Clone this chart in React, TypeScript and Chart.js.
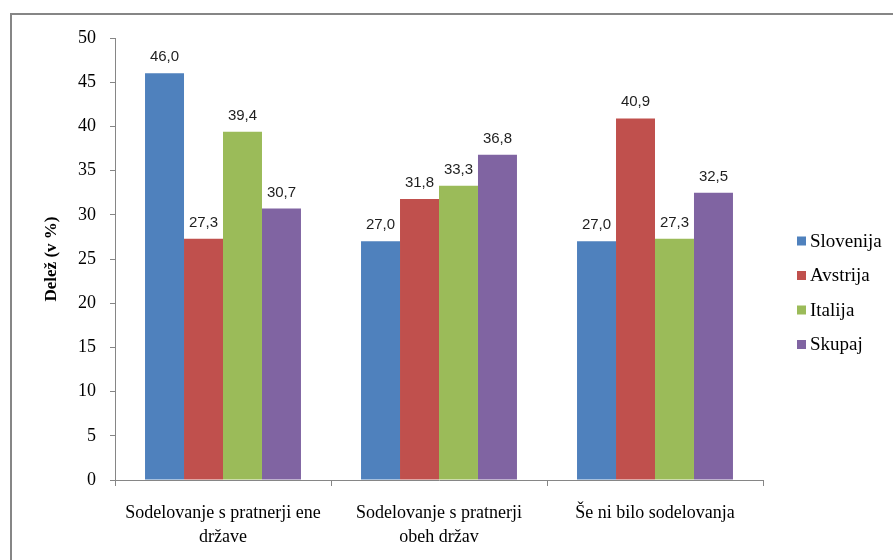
import React, { useEffect, useRef } from "react";
import { Chart, registerables } from "chart.js";

Chart.register(...registerables);

const categories: string[][] = [
  ["Sodelovanje s pratnerji ene", "države"],
  ["Sodelovanje s pratnerji", "obeh držav"],
  ["Še ni bilo sodelovanja"],
];
const seriesNames = ["Slovenija", "Avstrija", "Italija", "Skupaj"];
const slovenija = [46.0, 27.0, 27.0];
const avstrija = [27.3, 31.8, 40.9];
const italija = [39.4, 33.3, 27.3];
const skupaj = [30.7, 36.8, 32.5];
const seriesColors = ["#4F81BD", "#C0504D", "#9BBB59", "#8064A2"];
const yTitle = "Delež (v %)";
const yMin = 0;
const yMax = 50;
const yStep = 5;

const SERIF = "'Liberation Serif', 'Times New Roman', serif";
const SANS = "'Liberation Sans', Arial, sans-serif";

export default function App() {
  const ref = useRef<HTMLCanvasElement | null>(null);

  useEffect(() => {
    if (!ref.current) return;
    const values = [slovenija, avstrija, italija, skupaj];

    const frame = {
      id: "frame",
      beforeDraw(chart: any) {
        const ctx = chart.ctx;
        ctx.save();
        ctx.fillStyle = "#ffffff";
        ctx.fillRect(0, 0, chart.width, chart.height);
        ctx.strokeStyle = "#868686";
        ctx.lineWidth = 2;
        ctx.strokeRect(11, 14, chart.width + 20, chart.height + 20);
        ctx.restore();
      },
    };

    const dataLabels = {
      id: "dataLabels",
      afterDatasetsDraw(chart: any) {
        const ctx = chart.ctx;
        ctx.save();
        ctx.font = `15px ${SANS}`;
        ctx.fillStyle = "#1f1f1f";
        ctx.textAlign = "center";
        ctx.textBaseline = "alphabetic";
        chart.data.datasets.forEach((ds: any, i: number) => {
          const meta = chart.getDatasetMeta(i);
          meta.data.forEach((el: any, j: number) => {
            const v = ds.data[j] as number;
            ctx.fillText(v.toFixed(1).replace(".", ","), el.x, el.y - 12);
          });
        });
        ctx.restore();
      },
    };

    const legend = {
      id: "customLegend",
      afterDraw(chart: any) {
        const ctx = chart.ctx;
        ctx.save();
        ctx.font = `19px ${SERIF}`;
        ctx.textBaseline = "middle";
        ctx.textAlign = "left";
        chart.data.datasets.forEach((ds: any, i: number) => {
          const y = 241 + i * 34.5;
          ctx.fillStyle = ds.backgroundColor;
          ctx.fillRect(797, y - 4.5, 9, 9);
          ctx.fillStyle = "#000000";
          ctx.fillText(ds.label, 810, y + 1);
        });
        ctx.restore();
      },
    };

    const chart = new Chart(ref.current, {
      type: "bar",
      data: {
        labels: categories,
        datasets: seriesNames.map((name, i) => ({
          label: name,
          data: values[i],
          backgroundColor: seriesColors[i],
          borderWidth: 0,
          barPercentage: 1,
          categoryPercentage: 0.722,
        })),
      },
      options: {
        responsive: false,
        animation: false,
        devicePixelRatio: 1,
        layout: { padding: { left: 41, top: 38, right: 130, bottom: 0 } },
        plugins: {
          legend: { display: false },
          tooltip: { enabled: false },
        },
        scales: {
          x: {
            grid: {
              display: true,
              drawOnChartArea: false,
              drawTicks: true,
              tickLength: 6,
              color: "#868686",
              offset: true,
            },
            border: { color: "#868686", width: 1 },
            ticks: {
              color: "#000000",
              font: { family: SERIF, size: 18, lineHeight: 1.3 },
              padding: 16,
              maxRotation: 0,
              autoSkip: false,
            },
            afterFit(scale: any) {
              scale.height = 80;
            },
          },
          y: {
            min: yMin,
            max: yMax,
            grid: {
              display: true,
              drawOnChartArea: false,
              drawTicks: true,
              tickLength: 5,
              color: "#868686",
            },
            border: { color: "#868686", width: 1 },
            ticks: {
              stepSize: yStep,
              color: "#000000",
              font: { family: SERIF, size: 18 },
              padding: 14,
            },
            title: {
              display: true,
              text: yTitle,
              color: "#000000",
              font: { family: SERIF, size: 17, weight: "bold" },
              padding: { top: 0, bottom: 0 },
            },
            afterFit(scale: any) {
              scale.width = 74;
            },
          },
        },
      },
      plugins: [frame, dataLabels, legend],
    });

    return () => chart.destroy();
  }, []);

  return (
    <div style={{ position: "absolute", left: 0, top: 0, width: 893, height: 560 }}>
      <canvas ref={ref} width={893} height={560} style={{ display: "block" }} />
    </div>
  );
}
